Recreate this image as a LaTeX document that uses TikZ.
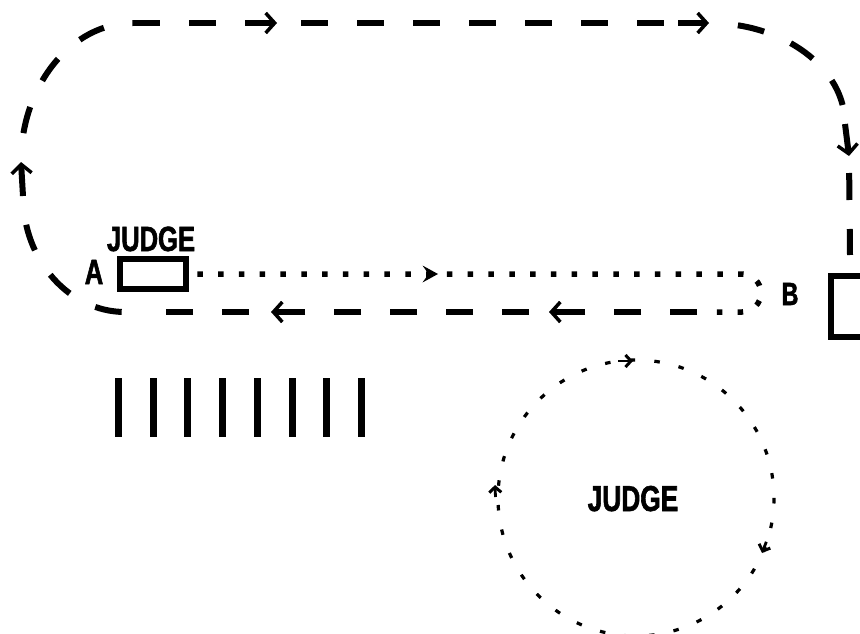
\documentclass[tikz,border=0pt]{standalone}
\usepackage{fontspec}
\newfontfamily\judgefont{Liberation Sans}[FakeStretch=0.73,FakeBold=1.6]
\usetikzlibrary{arrows.meta}
\begin{document}
\begin{tikzpicture}[x=1pt,y=-1pt,
  track/.style={line width=6pt, dash pattern=on 27pt off 29pt},
  trackgap/.style={track, dash phase=27pt},
  bigarrow/.style={line width=6pt, -{Straight Barb[length=9pt,width=20pt,line width=3.5pt]}},
  dotline/.style={line width=5.5pt, dash pattern=on 5.5pt off 15.3pt},
  ringdots/.style={line width=3.2pt, dash pattern=on 5.5pt off 19.27pt},
  smallarrow/.style={line width=2.8pt, -{Straight Barb[length=5.5pt,width=12pt,line width=3pt]}},
  txt/.style={font=\judgefont\bfseries, inner sep=0pt, anchor=base},
  barline/.style={line width=7pt},
  booth/.style={draw, line width=6pt, inner sep=0pt}
]
\useasboundingbox (0,0) rectangle (860,634);
\clip (0,0) rectangle (860,634);

% judge boxes and labels
\node[booth, minimum width=66pt, minimum height=30pt] (boxA) at (153,273.5) {};
\node[booth, minimum width=60pt, minimum height=61pt] (boxB) at (861,306.5) {};
\node[txt, font=\judgefont\bfseries\fontsize{35}{35}\selectfont] (judgeA) at (151,251) {JUDGE};
\node[txt, font=\judgefont\bfseries\fontsize{35}{35}\selectfont] (labA) at (94,284) {A};
\node[txt, font=\judgefont\bfseries\fontsize{32}{32}\selectfont] (labB) at (790,305) {B};
\node[txt, font=\judgefont\bfseries\fontsize{36}{36}\selectfont] (judgeC) at (633,511) {JUDGE};

% path coordinates
\coordinate (d0) at (197.25,274);
\coordinate (d1) at (742,274);
\coordinate (d2) at (715,312);
\coordinate (b0) at (697,312);
\coordinate (b1) at (160,312);
\coordinate (ll0) at (23,196);
\coordinate (ll1) at (125,312);
\coordinate (ul0) at (21,162);
\coordinate (t0) at (133,23);
\coordinate (t1) at (664,23);
\coordinate (ta0) at (678,23);
\coordinate (ta1) at (709,23);
\coordinate (r0) at (845,124);
\coordinate (r1) at (849,156);
\coordinate (r2) at (850,255);

% dotted run from A to B and back
\draw[dotline] (d0) -- (d1) arc[start angle=-90, end angle=90, radius=19] -- (d2);
\fill (438,274) -- (422.5,265.5) -- (428.5,274) -- (422.5,282.5) -- cycle;

% dashed loop
\draw[track] (b0) -- (b1);
\draw[trackgap] (ll0) .. controls (23,260) and (69,312) .. (ll1);
\draw[trackgap] (ul0) .. controls (21,86) and (71,23) .. (t0);
\draw[track] (t0) -- (t1);
\draw[trackgap] (ta1) .. controls (784,23) and (845,68) .. (r0);
\draw[track, dash phase=39pt] (r1) -- (r2);

% direction arrows on the loop
\draw[bigarrow] (245,23) -- (277,23);
\draw[bigarrow] (ta0) -- (ta1);
\draw[bigarrow] (r0) -- (r1);
\draw[bigarrow] (585,312) -- (549,312);
\draw[bigarrow] (305,312) -- (271,312);
\draw[bigarrow] (ll0) -- (ul0);

% posts
\foreach \i in {0,...,7}
  \draw[barline] ({118.5+34.7*\i},378) -- ({118.5+34.7*\i},437);

% dotted circle round the judge
\draw[ringdots] (636,498) circle[radius=138];
\draw[smallarrow] (618,361) -- (633,361);
\draw[smallarrow] (766.3,541.8) -- (762,553);
\draw[smallarrow] (495.5,497) -- (495,485);
\end{tikzpicture}
\end{document}
